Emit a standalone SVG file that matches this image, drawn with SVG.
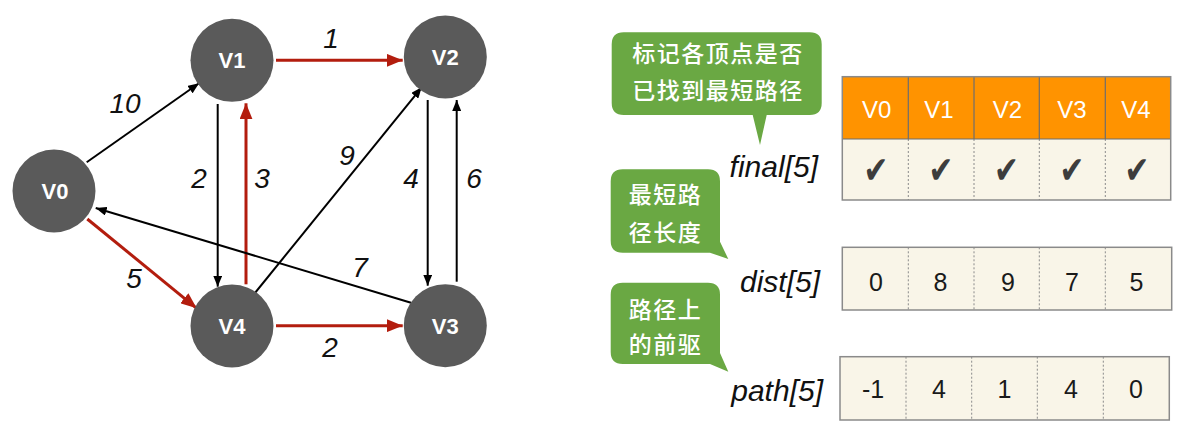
<svg xmlns="http://www.w3.org/2000/svg" width="1181" height="430" viewBox="0 0 1181 430">
<style>
.node circle{fill:#5a5a5a}
.node text{font-family:"Liberation Sans",Arial,sans-serif;font-weight:bold;font-size:22px;fill:#fff;text-anchor:middle}
.e{fill:none;stroke:#000;stroke-width:2}
.r{fill:none;stroke:#b31d0e;stroke-width:3}
.w{font-family:"Liberation Sans",Arial,sans-serif;font-style:italic;font-size:28px;fill:#111;text-anchor:middle}
.bub{fill:#6aa843}
.bt{font-family:"Noto Sans CJK SC",sans-serif;font-size:23px;font-weight:500;letter-spacing:1.5px;fill:#fff;text-anchor:middle}
.lbl{font-family:"Liberation Sans",Arial,sans-serif;font-style:italic;font-size:30px;fill:#111;text-anchor:end}
.hd{fill:#ff9300}
.row{fill:#f9f5e8}
.hv{font-family:"Liberation Sans",Arial,sans-serif;font-size:24px;fill:#fff;text-anchor:middle}
.cv{font-family:"Liberation Sans",Arial,sans-serif;font-size:25px;fill:#1a1a1a;text-anchor:middle}
.ck{font-family:"DejaVu Sans",sans-serif;font-size:38px;fill:#3d3d3d;text-anchor:middle}
.solid{stroke:#6e6e6e;stroke-width:1.2}
.dash{stroke:#8a8a8a;stroke-width:1;stroke-dasharray:2,2}
.box{fill:none;stroke:#8a8a8a;stroke-width:1.5}
</style>
<defs>
<marker id="ab" markerUnits="userSpaceOnUse" markerWidth="11" markerHeight="9" refX="11" refY="4.5" orient="auto"><path d="M0,0 L11,4.5 L0,9 z" fill="#000"/></marker>
<marker id="ar" markerUnits="userSpaceOnUse" markerWidth="16" markerHeight="13" refX="16" refY="6.5" orient="auto"><path d="M0,0 L16,6.5 L0,13 z" fill="#b31d0e"/></marker>
</defs>

<g id="connectors">
<line class="e" x1="86.7" y1="162.3" x2="199" y2="83.3" marker-end="url(#ab)"/>
<line class="r" x1="276" y1="60.3" x2="402.7" y2="60.3" marker-end="url(#ar)"/>
<line class="e" x1="217.7" y1="104" x2="217.7" y2="286.7" marker-end="url(#ab)"/>
<line class="r" x1="246" y1="284.3" x2="246" y2="103.3" marker-end="url(#ar)"/>
<line class="e" x1="253.3" y1="295" x2="421.7" y2="87.3" marker-end="url(#ab)"/>
<line class="e" x1="427.7" y1="100" x2="427.7" y2="285.7" marker-end="url(#ab)"/>
<line class="e" x1="456.7" y1="281.7" x2="456.7" y2="100" marker-end="url(#ab)"/>
<line class="e" x1="411" y1="302.7" x2="95.7" y2="208" marker-end="url(#ab)"/>
<line class="r" x1="87.3" y1="219" x2="196.7" y2="308.3" marker-end="url(#ar)"/>
<line class="r" x1="276" y1="325.7" x2="402.7" y2="325.7" marker-end="url(#ar)"/>
<text class="w" x="125" y="113">10</text>
<text class="w" x="331" y="48">1</text>
<text class="w" x="199" y="188">2</text>
<text class="w" x="262" y="188">3</text>
<text class="w" x="347" y="165">9</text>
<text class="w" x="411" y="188">4</text>
<text class="w" x="474" y="188">6</text>
<text class="w" x="360" y="277">7</text>
<text class="w" x="134" y="288">5</text>
<text class="w" x="330" y="357">2</text>
</g>

<g id="V0" class="node"><circle cx="54" cy="191" r="41.5"/><text x="55" y="199">V0</text></g>
<g id="V1" class="node"><circle cx="232" cy="60.3" r="41.5"/><text x="232" y="68">V1</text></g>
<g id="V2" class="node"><circle cx="445.3" cy="57" r="41.5"/><text x="445.3" y="65">V2</text></g>
<g id="V3" class="node"><circle cx="445.3" cy="325.7" r="41.5"/><text x="445.3" y="333.5">V3</text></g>
<g id="V4" class="node"><circle cx="232" cy="326" r="41.5"/><text x="232" y="334">V4</text></g>

<g id="callout-final">
<path class="bub" d="M623.7,32.3 H809.7 Q821.7,32.3 821.7,44.3 V103 Q821.7,115 809.7,115 H766.7 L760,145 L752.7,115 H623.7 Q611.7,115 611.7,103 V44.3 Q611.7,32.3 623.7,32.3 Z"/>
<text class="bt" x="718" y="62">标记各顶点是否</text>
<text class="bt" x="718" y="99">已找到最短路径</text>
</g>
<g id="callout-dist">
<path class="bub" d="M622.7,169.3 H708 Q720,169.3 720,181.3 V241.7 L728.3,259 L710,252.7 H622.7 Q610.7,252.7 610.7,240.7 V181.3 Q610.7,169.3 622.7,169.3 Z"/>
<text class="bt" x="665.5" y="202.6">最短路</text>
<text class="bt" x="665.5" y="241">径长度</text>
</g>
<g id="callout-path">
<path class="bub" d="M622.7,282.7 H708 Q720,282.7 720,294.7 V353 L728.3,371.7 L710,364 H622.7 Q610.7,364 610.7,352 V294.7 Q610.7,282.7 622.7,282.7 Z"/>
<text class="bt" x="665.5" y="318">路径上</text>
<text class="bt" x="665.5" y="353">的前驱</text>
</g>

<g id="final-table">
<text class="lbl" x="818" y="177">final[5]</text>
<rect class="hd" x="842.3" y="76.7" width="328.4" height="62.3"/>
<rect class="row" x="842.3" y="139" width="328.4" height="61"/>
<line class="solid" x1="908.3" y1="76.7" x2="908.3" y2="139"/>
<line class="solid" x1="974" y1="76.7" x2="974" y2="139"/>
<line class="solid" x1="1039.3" y1="76.7" x2="1039.3" y2="139"/>
<line class="solid" x1="1105.3" y1="76.7" x2="1105.3" y2="139"/>
<line class="dash" x1="908.3" y1="139" x2="908.3" y2="200"/>
<line class="dash" x1="974" y1="139" x2="974" y2="200"/>
<line class="dash" x1="1039.3" y1="139" x2="1039.3" y2="200"/>
<line class="dash" x1="1105.3" y1="139" x2="1105.3" y2="200"/>
<line class="solid" x1="842.3" y1="139" x2="1170.7" y2="139"/>
<rect class="box" x="842.3" y="76.7" width="328.4" height="123.3"/>
<text class="hv" x="876.7" y="117.5">V0</text>
<text class="hv" x="939" y="117.5">V1</text>
<text class="hv" x="1007.5" y="117.5">V2</text>
<text class="hv" x="1072" y="117.5">V3</text>
<text class="hv" x="1136" y="117.5">V4</text>
<text class="ck" transform="translate(876,183) scale(0.78,1)">✔</text>
<text class="ck" transform="translate(941,183) scale(0.78,1)">✔</text>
<text class="ck" transform="translate(1006.5,183) scale(0.78,1)">✔</text>
<text class="ck" transform="translate(1072,183) scale(0.78,1)">✔</text>
<text class="ck" transform="translate(1137,183) scale(0.78,1)">✔</text>
</g>

<g id="dist-table">
<text class="lbl" x="820" y="292">dist[5]</text>
<rect class="row" x="842.3" y="247.3" width="329.4" height="62.7"/>
<line class="dash" x1="908.3" y1="247.3" x2="908.3" y2="310"/>
<line class="dash" x1="974" y1="247.3" x2="974" y2="310"/>
<line class="dash" x1="1039.3" y1="247.3" x2="1039.3" y2="310"/>
<line class="dash" x1="1105.3" y1="247.3" x2="1105.3" y2="310"/>
<rect class="box" x="842.3" y="247.3" width="329.4" height="62.7"/>
<text class="cv" x="876" y="291">0</text>
<text class="cv" x="940.5" y="291">8</text>
<text class="cv" x="1008" y="291">9</text>
<text class="cv" x="1072" y="291">7</text>
<text class="cv" x="1136.5" y="291">5</text>
</g>

<g id="path-table">
<text class="lbl" x="823" y="401">path[5]</text>
<rect class="row" x="840" y="356.7" width="329.3" height="63.3"/>
<line class="dash" x1="906" y1="356.7" x2="906" y2="420"/>
<line class="dash" x1="971.7" y1="356.7" x2="971.7" y2="420"/>
<line class="dash" x1="1037.3" y1="356.7" x2="1037.3" y2="420"/>
<line class="dash" x1="1103.3" y1="356.7" x2="1103.3" y2="420"/>
<rect class="box" x="840" y="356.7" width="329.3" height="63.3"/>
<text class="cv" x="873" y="397.5">-1</text>
<text class="cv" x="939" y="397.5">4</text>
<text class="cv" x="1004.5" y="397.5">1</text>
<text class="cv" x="1071" y="397.5">4</text>
<text class="cv" x="1136" y="397.5">0</text>
</g>
</svg>
